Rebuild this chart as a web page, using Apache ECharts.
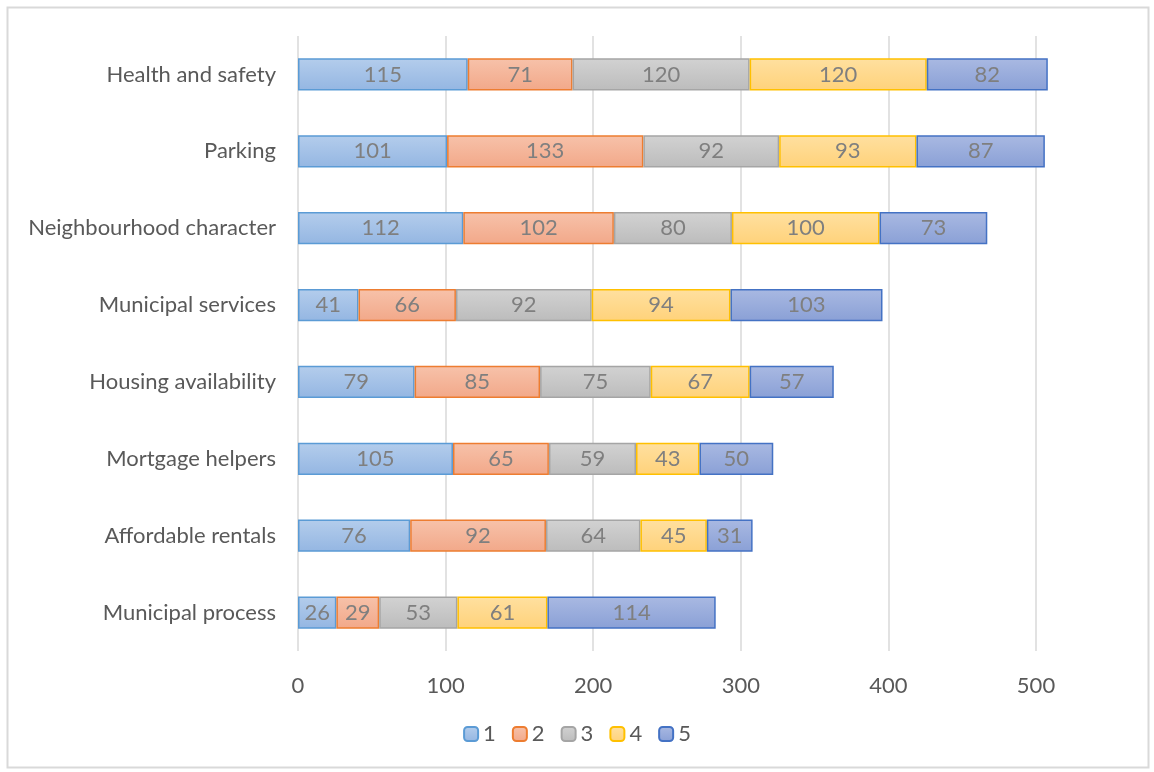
<!DOCTYPE html>
<html><head><meta charset="utf-8">
<script src="https://cdn.jsdelivr.net/npm/echarts@6/dist/echarts.min.js"></script>
<style>html,body{margin:0;padding:0;background:#fff}#c{width:1154px;height:772px}</style>
</head><body><div id="c"></div>
<script>
const categories = ["Health and safety","Parking","Neighbourhood character","Municipal services","Housing availability","Mortgage helpers","Affordable rentals","Municipal process"];
const seriesNames = ["1","2","3","4","5"];
const s1 = [115,101,112,41,79,105,76,26];
const s2 = [71,133,102,66,85,65,92,29];
const s3 = [120,92,80,92,75,59,64,53];
const s4 = [120,93,100,94,67,43,45,61];
const s5 = [82,87,73,103,57,50,31,114];
const xTicks = [0,100,200,300,400,500];

const values = [s1,s2,s3,s4,s5];
const fills = [["#b4cdec","#94b6e2"],["#f7c2aa","#f2a889"],["#d2d2d2","#bcbcbc"],["#ffe0a0","#ffd27a"],["#a9b9e2","#8aa0d6"]];
const borders = ["#5b9bd5","#ed7d31","#a5a5a5","#ffc000","#4472c4"];
const FONT = "Lato";
const chart = echarts.init(document.getElementById('c'));
chart.setOption({
  animation:false,
  textStyle:{fontFamily:FONT},
  graphic:[{type:'rect',shape:{x:7.5,y:7.5,width:1141,height:760},style:{fill:'none',stroke:'#d9d9d9',lineWidth:2}}],
  grid:{left:298,top:36,width:738,height:615,containLabel:false},
  xAxis:{type:'value',min:xTicks[0],max:xTicks[xTicks.length-1],interval:100,
    axisLine:{show:false},axisTick:{show:false},
    axisLabel:{fontSize:22,color:'#595959',margin:24,fontFamily:FONT},
    splitLine:{lineStyle:{color:'#d9d9d9',width:1.5}}},
  yAxis:{type:'category',data:categories,inverse:true,
    axisLine:{show:false},axisTick:{show:false},
    axisLabel:{fontSize:22,color:'#595959',margin:22,fontFamily:FONT}},
  legend:{bottom:22,left:'center',itemWidth:14,itemHeight:14,itemGap:16,
    textStyle:{fontSize:22,color:'#595959',fontFamily:FONT}},
  series: values.map((v,i)=>({
    name:seriesNames[i],type:'bar',stack:'t',data:v,barWidth:'42%',clip:false,
    itemStyle:{color:new echarts.graphic.LinearGradient(0,0,0,1,[{offset:0,color:fills[i][0]},{offset:1,color:fills[i][1]}]),
      borderColor:borders[i],borderWidth:1.5},
    label:{show:true,position:'inside',fontSize:22,color:'#7f7f7f',fontFamily:FONT}
  }))
});
</script></body></html>
